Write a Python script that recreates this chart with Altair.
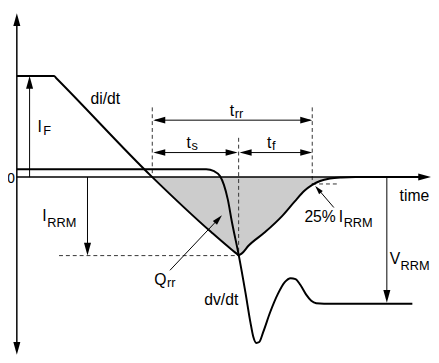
import altair as alt
import pandas as pd

# Diagram coordinate system (horizontal = time position, vertical = level, downward positive)
X_DOMAIN = [8, 431]
Y_DOMAIN = [8, 355]
ZERO_LEVEL = 177

# Diode current i(t)
current_x = [17, 55, 57, 155, 215, 236, 241, 243, 246, 253, 270, 287, 300, 310, 318, 326, 336, 348, 362, 432]
current_y = [74, 74, 76, 177, 233, 251, 255, 256.5, 255, 247, 233, 217, 202, 191, 185, 181, 178.5, 177.4, 177, 177]

# Diode voltage v(t)
voltage_x = [17, 210, 218, 224, 228, 232, 236, 243, 250, 255, 258, 261, 264, 268, 275, 283, 290, 296, 301, 306, 312, 317, 322, 330, 420]
voltage_y = [169, 169, 171, 176, 185, 200, 222, 256, 295, 325, 340, 346, 345, 335, 315, 296, 284, 280, 281, 287, 297, 303, 305.5, 306, 306]

# Solid segments: axes and dimension arrows (x1, y1, x2, y2, width)
seg_x1 = [17, 17, 158, 158, 246, 30, 89, 394, 173, 340]
seg_y1 = [20, 177, 119, 152, 152, 177, 177, 177, 272, 208]
seg_x2 = [17, 432, 316, 240, 316, 30, 89, 394, 223, 322]
seg_y2 = [348, 177, 119, 152, 152, 80, 250, 298, 219, 187]
seg_w = [1.5, 1.5, 1, 1, 1, 1, 1, 1, 1, 1]

# Dashed guide lines
dash_x1 = [155, 243, 318, 60, 318]
dash_y1 = [106, 137, 106, 257, 184]
dash_x2 = [155, 243, 318, 243, 345]
dash_y2 = [177, 256, 184, 257, 184]

# Arrowheads (tip position, direction clockwise from up, size)
head_x = [17, 17, 439, 156, 318, 156, 242, 244, 318, 30, 89, 394, 226, 321]
head_y = [10, 358, 177, 119, 119, 152, 152, 152, 152, 74, 257, 305, 216, 186]
head_angle = [0, 180, 90, 270, 90, 270, 90, 270, 90, 0, 180, 180, 43, 319]
head_size = [169, 169, 169, 150, 150, 150, 150, 150, 150, 169, 169, 169, 110, 80]

# Labels (anchor x, baseline, text, font size, alignment)
label_x = [15, 38, 44, 92, 234, 239, 190, 195, 272, 277, 43, 48, 157, 170, 208, 310, 345, 350, 407, 397, 408]
label_y = [183, 131, 134, 103, 115, 117, 147, 149, 147, 149, 222, 228, 287, 289, 307, 223, 223, 228, 201, 266, 272]
label_text = ["0", "I", "F", "di/dt", "t", "rr", "t", "s", "t", "f", "I", "RRM", "Q", "rr", "dv/dt",
              "25%", "I", "RRM", "time", "V", "RRM"]
label_size = [14, 16, 13, 16, 16, 13, 16, 13, 16, 13, 16, 13, 16, 13, 16, 16, 16, 13, 16, 16, 13]
label_align = ["right"] + ["left"] * 20

FONT = "Liberation Sans"
ARROW = "M0,0L0.55,2L-0.55,2Z"

xs = alt.Scale(domain=X_DOMAIN, nice=False, zero=False)
ys = alt.Scale(domain=Y_DOMAIN, reverse=True, nice=False, zero=False)

cur = pd.DataFrame({"x": current_x, "y": current_y})
cur["base"] = ZERO_LEVEL
area_df = cur[cur["x"] >= 155]
volt = pd.DataFrame({"x": voltage_x, "y": voltage_y})
segs = pd.DataFrame({"x": seg_x1, "y": seg_y1, "x2": seg_x2, "y2": seg_y2, "w": seg_w})
dashes = pd.DataFrame({"x": dash_x1, "y": dash_y1, "x2": dash_x2, "y2": dash_y2})
heads = pd.DataFrame({"x": head_x, "y": head_y, "angle": head_angle, "size": head_size})
labels = pd.DataFrame({"x": label_x, "y": label_y, "text": label_text, "size": label_size, "align": label_align})

area = alt.Chart(area_df).mark_area(color="#cccccc", interpolate="monotone").encode(
    x=alt.X("x:Q", scale=xs, axis=None),
    y=alt.Y("y:Q", scale=ys, axis=None),
    y2="base:Q",
)

dash_layer = alt.Chart(dashes).mark_rule(color="#333333", strokeWidth=1, strokeDash=[4, 3]).encode(
    x=alt.X("x:Q", scale=xs, axis=None),
    y=alt.Y("y:Q", scale=ys, axis=None),
    x2="x2:Q",
    y2="y2:Q",
)

seg_layer = alt.Chart(segs).mark_rule(color="black").encode(
    x=alt.X("x:Q", scale=xs, axis=None),
    y=alt.Y("y:Q", scale=ys, axis=None),
    x2="x2:Q",
    y2="y2:Q",
    strokeWidth=alt.StrokeWidth("w:Q", scale=None),
)

cur_line = alt.Chart(cur).mark_line(color="black", strokeWidth=2, interpolate="monotone").encode(
    x=alt.X("x:Q", scale=xs, axis=None),
    y=alt.Y("y:Q", scale=ys, axis=None),
    order="x:Q",
)

volt_line = alt.Chart(volt).mark_line(color="black", strokeWidth=2, interpolate="monotone").encode(
    x=alt.X("x:Q", scale=xs, axis=None),
    y=alt.Y("y:Q", scale=ys, axis=None),
    order="x:Q",
)

head_layer = alt.Chart(heads).mark_point(shape=ARROW, filled=True, color="black", opacity=1, strokeWidth=0).encode(
    x=alt.X("x:Q", scale=xs, axis=None),
    y=alt.Y("y:Q", scale=ys, axis=None),
    angle=alt.Angle("angle:Q", scale=None),
    size=alt.Size("size:Q", scale=None),
)

text_left = alt.Chart(labels[labels["align"] == "left"]).mark_text(
    align="left", baseline="alphabetic", font=FONT, color="black"
).encode(
    x=alt.X("x:Q", scale=xs, axis=None),
    y=alt.Y("y:Q", scale=ys, axis=None),
    text="text:N",
    size=alt.Size("size:Q", scale=None),
)

text_right = alt.Chart(labels[labels["align"] == "right"]).mark_text(
    align="right", baseline="alphabetic", font=FONT, color="black"
).encode(
    x=alt.X("x:Q", scale=xs, axis=None),
    y=alt.Y("y:Q", scale=ys, axis=None),
    text="text:N",
    size=alt.Size("size:Q", scale=None),
)

chart = alt.layer(area, dash_layer, seg_layer, cur_line, volt_line, head_layer, text_left, text_right).properties(
    width=423, height=347,
    autosize=alt.AutoSizeParams(type="none"),
    padding={"left": 0, "top": 0, "right": 8, "bottom": 0},
).configure_view(strokeWidth=0)

chart.save("out.html", embed_options={"renderer": "svg", "actions": False})
